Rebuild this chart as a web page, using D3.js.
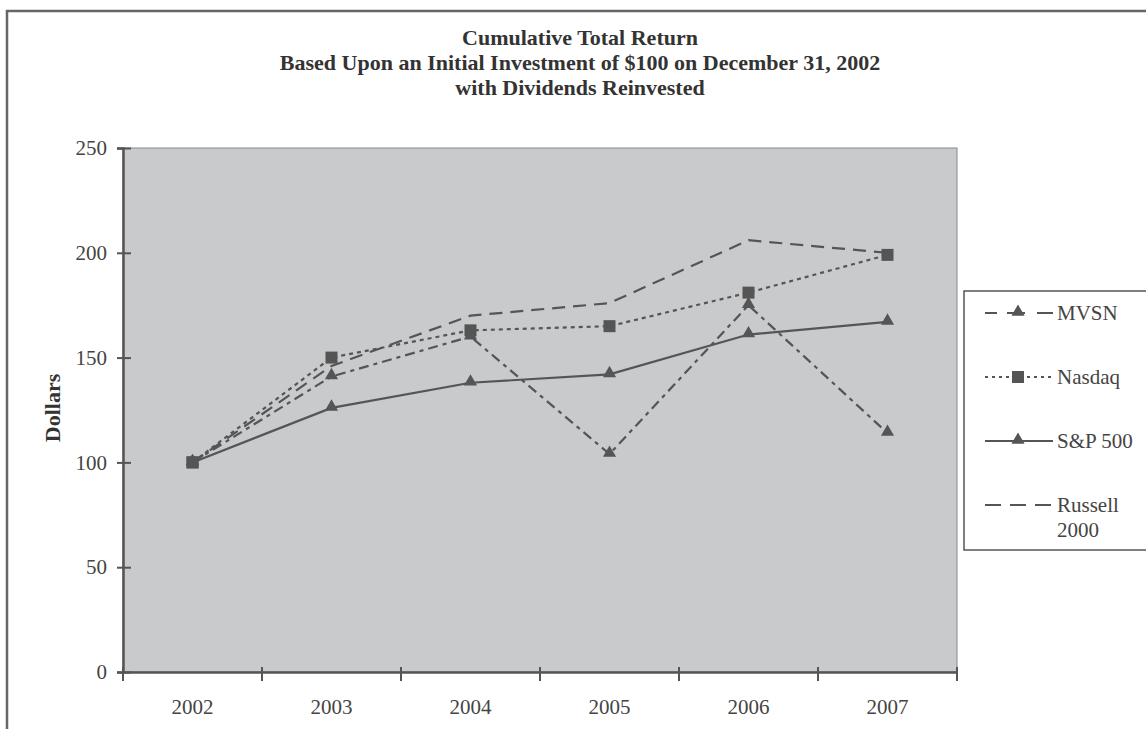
<!DOCTYPE html>
<html>
<head>
<meta charset="utf-8">
<script src="https://cdn.jsdelivr.net/npm/d3@7"></script>
<style>
  body { margin: 0; background: #fff; }
  svg text { font-family: "Liberation Serif", "DejaVu Serif", serif; }
</style>
</head>
<body>
<div class="chart"></div>
<script>
// 数据
let years = ["2002", "2003", "2004", "2005", "2006", "2007"]
let mvsn = [100, 141, 160, 104, 175, 114]
let nasdaq = [100, 150, 163, 165, 181, 199]
let sp500 = [100, 126, 138, 142, 161, 167]
let russell = [100, 146, 170, 176, 206, 200]
let yTicks = [0, 50, 100, 150, 200, 250]
let titleLines = ["Cumulative Total Return",
    "Based Upon an Initial Investment of $100 on December 31, 2002",
    "with Dividends Reinvested"]

let width = 1146, height = 729
let plotLeft = 123, plotRight = 957, plotTop = 148, plotBottom = 672
let ink = "#555"

let series = [
    {name: ["MVSN"], values: mvsn, dash: "10,5,4,5", legendDash: "12,10,18,12,16", marker: "triangle"},
    {name: ["Nasdaq"], values: nasdaq, dash: "4,4", legendDash: "3,4", marker: "square"},
    {name: ["S&P 500"], values: sp500, dash: null, legendDash: null, marker: "triangle"},
    {name: ["Russell", "2000"], values: russell, dash: "13,8", legendDash: "16,9", marker: null}
]

let svg = d3.select(".chart")
    .append("svg")
    .attr("width", width)
    .attr("height", height)

// 外框
svg.append("path")
    .attr("d", `M7,${height} V11 H${width}`)
    .attr("fill", "none")
    .attr("stroke", "#666")
    .attr("stroke-width", 2.5)

// 标题
svg.append("g")
    .selectAll("text")
    .data(titleLines)
    .enter()
    .append("text")
    .attr("x", 580)
    .attr("y", (d, i) => 45 + 24.8 * i)
    .attr("text-anchor", "middle")
    .attr("font-size", 22)
    .attr("font-weight", "bold")
    .attr("fill", "#333")
    .text(d => d)

//比例尺
let x = d3.scaleBand().domain(years).range([plotLeft, plotRight])
let y = d3.scaleLinear().domain([0, 250]).range([plotBottom, plotTop])
let cx = d => x(d) + x.bandwidth() / 2

svg.append("rect")
    .attr("x", plotLeft)
    .attr("y", plotTop)
    .attr("width", plotRight - plotLeft)
    .attr("height", plotBottom - plotTop)
    .attr("fill", "#c9cacc")
    .attr("stroke", "#888")
    .attr("stroke-width", 1)

// 坐标轴
let yAxis = svg.append("g")
    .attr("transform", `translate(${plotLeft},0)`)
    .call(d3.axisLeft(y).tickValues(yTicks).tickSize(6).tickPadding(10))
yAxis.select(".domain").attr("stroke", ink).attr("stroke-width", 2.5)
yAxis.selectAll(".tick line").attr("stroke", ink).attr("stroke-width", 2).attr("x2", 8).attr("x1", -6)
yAxis.selectAll(".tick text").attr("font-size", 21).attr("fill", "#444")
    .style("font-family", "Liberation Serif, serif")

let xAxis = svg.append("g")
    .attr("transform", `translate(0,${plotBottom})`)
    .call(d3.axisBottom(x).tickSize(0).tickPadding(27))
xAxis.select(".domain").attr("stroke", ink).attr("stroke-width", 2.5)
xAxis.selectAll(".tick text").attr("font-size", 21).attr("fill", "#444")
    .style("font-family", "Liberation Serif, serif")
let edges = years.map(d => x(d)).concat([plotRight])
xAxis.append("g")
    .selectAll("line")
    .data(edges)
    .enter()
    .append("line")
    .attr("x1", d => d)
    .attr("x2", d => d)
    .attr("y1", -5)
    .attr("y2", 9)
    .attr("stroke", ink)
    .attr("stroke-width", 2)

svg.append("text")
    .attr("transform", "translate(60,408) rotate(-90)")
    .attr("text-anchor", "middle")
    .attr("font-size", 22)
    .attr("font-weight", "bold")
    .attr("fill", "#333")
    .text("Dollars")

// 标记
let triangle = d3.symbol().type(d3.symbolTriangle).size(75)
function drawMarker(g, type, px, py) {
    if (type === "square") {
        g.append("rect")
            .attr("x", px - 6).attr("y", py - 6)
            .attr("width", 12).attr("height", 12)
            .attr("fill", ink)
    } else if (type === "triangle") {
        g.append("path")
            .attr("d", triangle())
            .attr("transform", `translate(${px},${py - 1})`)
            .attr("fill", ink)
    }
}

let line = d3.line().x((d, i) => cx(years[i])).y(d => y(d))
let lines = svg.append("g")
series.slice().reverse().forEach(s => {
    lines.append("path")
        .datum(s.values)
        .attr("d", line)
        .attr("fill", "none")
        .attr("stroke", ink)
        .attr("stroke-width", 2.2)
        .attr("stroke-dasharray", s.dash)
})
series.forEach(s => {
    if (!s.marker) return
    s.values.forEach((v, i) => drawMarker(lines, s.marker, cx(years[i]), y(v)))
})
// 2002 起点为方块
drawMarker(lines, "square", cx(years[0]), y(100))

// 图例
let legend = svg.append("g")
legend.append("rect")
    .attr("x", 964)
    .attr("y", 291)
    .attr("width", 200)
    .attr("height", 259)
    .attr("fill", "#fff")
    .attr("stroke", "#555")
    .attr("stroke-width", 1.5)
series.forEach((s, i) => {
    let ly = 313 + 64 * i
    legend.append("line")
        .attr("x1", 985).attr("x2", 1053)
        .attr("y1", ly).attr("y2", ly)
        .attr("stroke", ink)
        .attr("stroke-width", 2)
        .attr("stroke-dasharray", s.legendDash)
    drawMarker(legend, s.marker, 1018, ly)
    s.name.forEach((t, j) => {
        legend.append("text")
            .attr("x", 1057)
            .attr("y", ly + 7 + 25 * j)
            .attr("font-size", 21)
            .attr("fill", "#444")
            .text(t)
    })
})
</script>
</body>
</html>
